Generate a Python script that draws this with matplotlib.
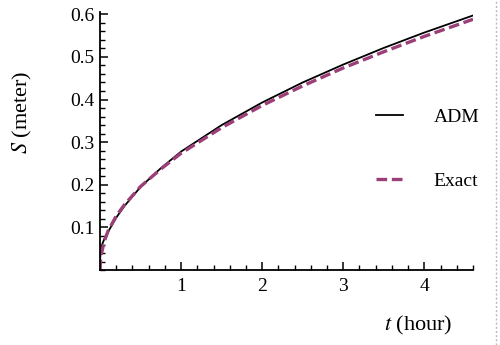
import matplotlib
matplotlib.use("Agg")
import matplotlib.pyplot as plt
from matplotlib.lines import Line2D
from matplotlib.ticker import MultipleLocator

# values
t_adm = [0, 0.003, 0.01, 0.03, 0.06, 0.1, 0.2, 0.3, 0.5, 0.75, 1.0, 1.5, 2.0, 2.5, 3.0, 3.5, 4.0, 4.3, 4.6]
s_adm = [0, 0.030, 0.045, 0.062, 0.076, 0.090, 0.123, 0.150, 0.195, 0.239, 0.278, 0.340, 0.393, 0.440, 0.482, 0.521, 0.557, 0.577, 0.597]

t_exact = [0, 0.005, 0.02, 0.05, 0.1, 0.2, 0.3, 0.5, 0.75, 1.0, 1.5, 2.0, 2.5, 3.0, 3.5, 4.0, 4.3, 4.6]
s_exact = [0, 0.020, 0.040, 0.066, 0.092, 0.127, 0.153, 0.196, 0.237, 0.274, 0.334, 0.386, 0.432, 0.474, 0.512, 0.548, 0.568, 0.588]

x_ticks = [1, 2, 3, 4]
y_ticks = [0.1, 0.2, 0.3, 0.4, 0.5, 0.6]

plt.rcParams['font.family'] = ['Liberation Serif', 'DejaVu Serif']
purple = '#9b3f78'

fig = plt.figure(figsize=(5, 3.45), dpi=100)
ax = fig.add_axes([0.2, 0.217, 0.746, 0.748])

ax.plot(t_adm, s_adm, color='black', lw=1.3, label='ADM')
ax.plot(t_exact, s_exact, color=purple, lw=2.4, ls=(0, (3.2, 1.4)), label='Exact')

ax.set_xlim(0, 4.6)
ax.set_ylim(0, 0.605)
for s in ['top', 'right']:
    ax.spines[s].set_visible(False)
for s in ['left', 'bottom']:
    ax.spines[s].set_linewidth(1.3)

ax.set_xticks(x_ticks)
ax.set_yticks(y_ticks)
ax.set_yticklabels([f'{v:.1f}' for v in y_ticks])
ax.xaxis.set_minor_locator(MultipleLocator(0.2))
ax.yaxis.set_minor_locator(MultipleLocator(0.02))
ax.tick_params(which='major', direction='in', length=6, width=1.1, labelsize=14, pad=6)
ax.tick_params(which='minor', direction='in', length=3.5, width=1.0)
ax.tick_params(axis='y', pad=4)

fig.text(0.045, 0.675, r'$S$ (meter)', rotation=90, ha='center', va='center', fontsize=16,
         math_fontfamily='stix')
fig.text(0.836, 0.058, r'$t$ (hour)', ha='center', va='center', fontsize=16,
         math_fontfamily='stix')

ax.legend(loc='center left', bbox_to_anchor=(0.693, 0.469), frameon=False, fontsize=14,
          handlelength=1.4, handletextpad=1.55, labelspacing=2.36)

fig.add_artist(Line2D([0.992, 0.992], [0, 1], transform=fig.transFigure,
                      color='#bbbbbb', lw=1, ls=(0, (1.5, 1.5))))

fig.savefig('out.png', dpi=100)
